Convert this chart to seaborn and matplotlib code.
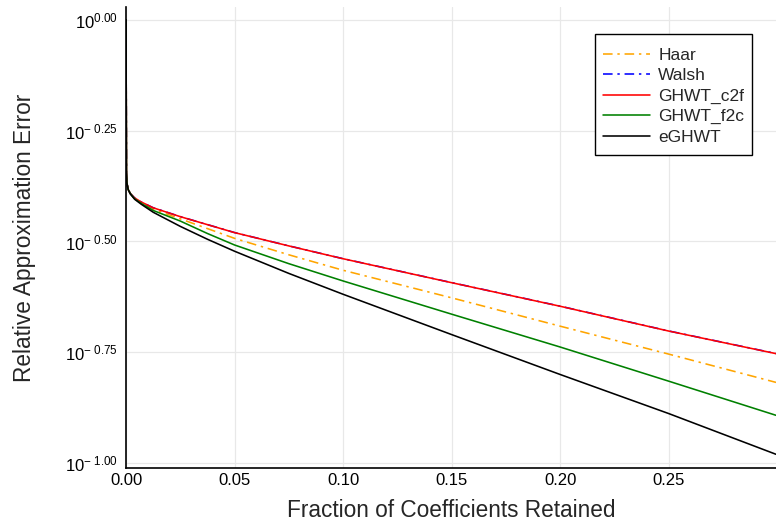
import matplotlib
matplotlib.use("Agg")
import matplotlib.pyplot as plt
import seaborn as sns
import pandas as pd
from matplotlib.patches import Rectangle
from matplotlib.ticker import FixedLocator, NullLocator

# Fraction of coefficients retained
fraction = [0.0, 0.0002, 0.0004, 0.001, 0.002, 0.004, 0.007, 0.0125, 0.025,
            0.0375, 0.05, 0.075, 0.10, 0.15, 0.20, 0.25, 0.2995]

# Relative approximation error of each basis
haar = [1.0, 0.4519, 0.4285, 0.4140, 0.4055, 0.3954, 0.3864, 0.3741, 0.3556,
        0.3381, 0.3214, 0.2951, 0.2723, 0.2360, 0.2037, 0.1762, 0.1521]
walsh = [1.0, 0.4519, 0.4285, 0.4140, 0.4055, 0.3963, 0.3882, 0.3768, 0.3598,
         0.3452, 0.3312, 0.3091, 0.2892, 0.2554, 0.2260, 0.1987, 0.1767]
ghwt_c2f = [1.0, 0.4519, 0.4285, 0.4140, 0.4055, 0.3963, 0.3882, 0.3767,
            0.3597, 0.3451, 0.3311, 0.3090, 0.2891, 0.2553, 0.2259, 0.1986,
            0.1766]
ghwt_f2c = [1.0, 0.4519, 0.4285, 0.4140, 0.4055, 0.3945, 0.3855, 0.3715,
            0.3516, 0.3296, 0.3105, 0.2818, 0.2576, 0.2168, 0.1828, 0.1531,
            0.1282]
eghwt = [1.0, 0.4519, 0.4285, 0.4140, 0.4046, 0.3936, 0.3837, 0.3681, 0.3420,
         0.3199, 0.3006, 0.2679, 0.2404, 0.1950, 0.1585, 0.1294, 0.1047]

series = [
    ("Haar", haar, "orange", (0, (6, 3, 1.5, 3))),
    ("Walsh", walsh, "blue", (0, (6, 3, 1.5, 3))),
    ("GHWT_c2f", ghwt_c2f, "red", "-"),
    ("GHWT_f2c", ghwt_f2c, "green", "-"),
    ("eGHWT", eghwt, "black", "-"),
]

y_ticks = [1.0, 10 ** -0.25, 10 ** -0.5, 10 ** -0.75, 0.1]
y_labels = [r"$10^{0.00}$", r"$10^{-\ 0.25}$", r"$10^{-\ 0.50}$",
            r"$10^{-\ 0.75}$", r"$10^{-\ 1.00}$"]
x_ticks = [0.0, 0.05, 0.10, 0.15, 0.20, 0.25]
x_labels = ["0.00", "0.05", "0.10", "0.15", "0.20", "0.25"]

sns.set_style("white")
plt.rcParams["font.family"] = ["Liberation Sans", "DejaVu Sans"]
plt.rcParams["mathtext.fontset"] = "custom"
plt.rcParams["mathtext.rm"] = "Liberation Sans"
plt.rcParams["mathtext.it"] = "Liberation Sans:italic"

fig = plt.figure(figsize=(7.76, 5.21), dpi=100)
ax = fig.add_axes([0.1624, 0.1017, 0.8376, 0.885])

for name, vals, color, ls in series:
    df = pd.DataFrame({"x": fraction, "y": vals})
    sns.lineplot(data=df, x="x", y="y", ax=ax, color=color, linestyle=ls,
                 linewidth=1.15, label=name)

ax.set_yscale("log")
ax.set_xlim(0, 0.2995)
ax.set_ylim(10 ** -1.011, 10 ** 0.029)

ax.yaxis.set_major_locator(FixedLocator(y_ticks))
ax.yaxis.set_minor_locator(NullLocator())
ax.set_yticklabels(y_labels)
ax.set_xticks(x_ticks)
ax.set_xticklabels(x_labels)

ax.grid(True, color="#e8e8e8", linewidth=0.9)
ax.set_axisbelow(True)
ax.tick_params(axis="both", direction="in", length=6, width=1, colors="black",
               labelsize=12)
ax.tick_params(axis="y", pad=6)
for side in ("top", "right"):
    ax.spines[side].set_visible(False)
for side in ("left", "bottom"):
    ax.spines[side].set_color("black")
    ax.spines[side].set_linewidth(1.2)

ax.set_xlabel("Fraction of Coefficients Retained", fontsize=16.3, labelpad=8)
ax.set_ylabel("Relative Approximation Error", fontsize=16.3, labelpad=21)

leg = ax.legend(loc="upper right", bbox_to_anchor=(0.963, 0.928), fontsize=12.5,
                frameon=False, handlelength=2.75, borderpad=0.45,
                labelspacing=0.3, handletextpad=0.45, borderaxespad=0)

# Legend frame with extra vertical room around the entries
fig.canvas.draw()
bb = leg.get_window_extent()
extra_top = 6.0
extra_bottom = 2.5
frame = Rectangle((bb.x0, bb.y0 - extra_bottom), bb.width,
                  bb.height + extra_top + extra_bottom,
                  transform=None, fill=True, facecolor="white",
                  edgecolor="black", linewidth=1.0, zorder=4)
fig.patches.append(frame)
leg.set_zorder(5)
leg.remove()
fig.legends.append(leg)
leg.set_figure(fig)

fig.savefig("out.png", dpi=100)
